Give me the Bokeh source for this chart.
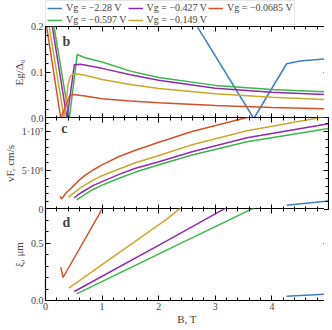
import numpy as np
from bokeh.plotting import figure
from bokeh.layouts import column
from bokeh.models import Range1d, FixedTicker, LinearAxis, Legend, LegendItem, Label
from bokeh.embed import file_html
from bokeh.resources import INLINE

# ---------------- data ----------------
series_labels = ["Vg = −2.28 V", "Vg = −0.597 V", "Vg = −0.427 V",
                 "Vg = −0.149 V", "Vg = −0.0685 V"]
series_colors = ["#3f7fbf", "#3cb54a", "#8f2aa8", "#c9a92c", "#d2532b"]

# panel b : E_g / Delta_0
b_B = [
    [2.60, 3.68, 4.26, 4.5, 5.0],
    [0.0, 0.42, 0.56, 0.7, 1.0, 1.5, 2.0, 3.0, 4.0, 5.0],
    [0.0, 0.38, 0.51, 0.62, 1.0, 1.5, 2.0, 3.0, 4.0, 5.0],
    [0.0, 0.33, 0.40, 0.44, 0.51, 0.7, 1.0, 1.5, 2.0, 3.0, 4.0, 5.0],
    [0.0, 0.27, 0.42, 0.48, 0.7, 1.0, 1.5, 2.0, 3.0, 4.0, 5.0],
]
b_E = [
    [0.216, 0.0, 0.119, 0.125, 0.130],
    [0.311, 0.0, 0.139, 0.132, 0.123, 0.103, 0.089, 0.072, 0.063, 0.058],
    [0.292, 0.0, 0.117, 0.118, 0.109, 0.095, 0.083, 0.066, 0.057, 0.052],
    [0.249, 0.0, 0.075, 0.092, 0.098, 0.094, 0.085, 0.074, 0.065, 0.054, 0.046, 0.041],
    [0.216, 0.0, 0.048, 0.052, 0.049, 0.043, 0.038, 0.034, 0.028, 0.024, 0.021],
]

# panel c : v_F, cm/s
c_B = [
    [4.26, 4.6, 5.0],
    [0.55, 0.62, 0.71, 0.85, 0.99, 1.30, 1.59, 1.99, 2.59, 3.56, 5.0],
    [0.51, 0.56, 0.63, 0.71, 0.85, 0.99, 1.30, 1.59, 1.99, 2.59, 3.56, 5.0],
    [0.405, 0.476, 0.55, 0.62, 0.71, 0.85, 0.99, 1.30, 1.59, 1.99, 2.59, 3.56, 4.86, 5.0],
    [0.26, 0.28, 0.30, 0.36, 0.42, 0.476, 0.60, 0.71, 0.85, 0.99, 1.30, 1.59, 1.99, 2.59, 3.56, 3.8],
]
c_v = [
    [0.056e7, 0.080e7, 0.108e7],
    [0.125e7, 0.155e7, 0.20e7, 0.26e7, 0.31e7, 0.40e7, 0.48e7, 0.57e7, 0.70e7, 0.87e7, 1.04e7],
    [0.147e7, 0.18e7, 0.215e7, 0.25e7, 0.31e7, 0.355e7, 0.45e7, 0.53e7, 0.61e7, 0.74e7, 0.92e7, 1.10e7],
    [0.156e7, 0.20e7, 0.24e7, 0.28e7, 0.32e7, 0.38e7, 0.43e7, 0.52e7, 0.60e7, 0.69e7, 0.83e7, 1.01e7, 1.18e7, 1.20e7],
    [0.17e7, 0.135e7, 0.15e7, 0.21e7, 0.25e7, 0.29e7, 0.38e7, 0.445e7, 0.51e7, 0.57e7, 0.68e7, 0.76e7, 0.86e7, 1.0e7, 1.18e7, 1.22e7],
]

# panel d : xi, um
d_B = [
    [4.26, 5.0],
    [0.55, 2.15, 3.64, 3.8],
    [0.51, 2.15, 3.15, 3.3],
    [0.41, 2.15, 2.36, 2.5],
    [0.27, 0.31, 1.0, 1.1],
]
d_xi = [
    [0.037, 0.057],
    [0.057, 0.44, 0.795, 0.833],
    [0.078, 0.52, 0.795, 0.835],
    [0.107, 0.71, 0.795, 0.84],
    [0.29, 0.20, 0.795, 0.88],
]

x_ticks = [0, 1, 2, 3, 4]
x_tick_labels = ["0", "1", "2", "3", "4"]
b_ticks = [0.0, 0.1, 0.2]
b_tick_labels = ["0.0", "0.1", "0.2"]
c_ticks = [0.0, 5e6, 1e7]
c_tick_labels = ["0", "5·10⁶", "1·10⁷"]
d_ticks = [0.0, 0.5]
d_tick_labels = ["0.0", "0.5"]

# ---------------- styling helpers ----------------
FONT = "Liberation Serif"
LB = 40
FW = 283
x_range = Range1d(0, 5)


def base_fig(fh, y_range, top, bottom, overlap):
    p = figure(frame_width=FW, frame_height=fh, x_range=x_range, y_range=y_range,
               x_axis_location=None, y_axis_location=None,
               min_border_left=LB, min_border_right=1,
               min_border_top=top, min_border_bottom=bottom,
               output_backend="svg", toolbar_location=None,
               margin=(-overlap, 0, 0, 0))
    p.grid.visible = False
    p.outline_line_color = "black"
    p.outline_line_width = 1.2
    p.outline_line_alpha = 1.0
    p.border_fill_alpha = 0.0
    return p


def style_ticks(ax):
    ax.axis_line_color = None
    ax.major_tick_in = 5
    ax.major_tick_out = 0
    ax.minor_tick_in = 3
    ax.minor_tick_out = 0
    ax.major_tick_line_color = "black"
    ax.minor_tick_line_color = "black"


def add_axis(p, side, ticks, minor, labels, title, title_standoff=3):
    ax = LinearAxis(ticker=FixedTicker(ticks=ticks, minor_ticks=minor))
    style_ticks(ax)
    ax.major_label_overrides = {t: s for t, s in zip(ticks, labels)}
    ax.major_label_text_font = FONT
    ax.major_label_text_font_size = "10px"
    ax.major_label_standoff = 2
    ax.axis_label = title
    ax.axis_label_text_font = FONT
    ax.axis_label_text_font_size = "11px"
    ax.axis_label_text_font_style = "normal"
    ax.axis_label_standoff = title_standoff
    p.add_layout(ax, side)
    return ax


def add_tick_edge(p, side, ticks, minor, loc):
    # tick marks only, pinned to the frame edge (takes no border space)
    ax = LinearAxis(ticker=FixedTicker(ticks=ticks, minor_ticks=minor), fixed_location=loc)
    style_ticks(ax)
    ax.major_label_overrides = {t: "" for t in ticks}
    ax.major_label_text_font_size = "0px"
    p.add_layout(ax, side)
    return ax


x_minor = [round(0.2 * i, 2) for i in range(26)]
b_minor = [round(0.02 * i, 3) for i in range(11)]
c_minor = [1e6 * i for i in range(12)]
d_minor = [round(0.1 * i, 2) for i in range(9)]

# legend strip
fl = figure(width=324, height=26, x_range=x_range, y_range=Range1d(1, 2),
            x_axis_location=None, y_axis_location=None,
            min_border_left=38, min_border_right=0, min_border_top=0, min_border_bottom=0,
            output_backend="svg", toolbar_location=None)
fl.grid.visible = False
fl.outline_line_color = None

fb = base_fig(92, Range1d(0, 0.2), 6, 6, 6)
fc = base_fig(92, Range1d(0, 1.18e7), 0, 6, 7)
fd = base_fig(92, Range1d(0, 0.8), 0, 27, 7)

add_axis(fb, "left", b_ticks, b_minor, b_tick_labels, "Eg/Δ₀")
add_tick_edge(fb, "right", b_ticks, b_minor, 5)
add_tick_edge(fb, "below", x_ticks, x_minor, 0.0)
add_tick_edge(fb, "above", x_ticks, x_minor, 0.2)

add_axis(fc, "left", c_ticks, c_minor, c_tick_labels, "vF, cm/s")
add_tick_edge(fc, "right", c_ticks, c_minor, 5)
add_tick_edge(fc, "below", x_ticks, x_minor, 0.0)
add_tick_edge(fc, "above", x_ticks, x_minor, 1.18e7)

add_axis(fd, "left", d_ticks, d_minor, d_tick_labels, "ξ, μm")
add_tick_edge(fd, "right", d_ticks, d_minor, 5)
add_axis(fd, "below", x_ticks, x_minor, x_tick_labels, "B, T", title_standoff=0)
add_tick_edge(fd, "above", x_ticks, x_minor, 0.8)

legend_renderers = []
for i in range(5):
    fb.line(b_B[i], b_E[i], line_color=series_colors[i], line_width=1.5)
    fc.line(c_B[i], c_v[i], line_color=series_colors[i], line_width=1.5)
    fd.line(d_B[i], d_xi[i], line_color=series_colors[i], line_width=1.5)
    # same curves in the legend strip (outside its visible range) to give legend swatches
    legend_renderers.append(fl.line(b_B[i], b_E[i], line_color=series_colors[i], line_width=1.5))

# legend: row-major order blue, purple, orange / green, yellow
order = [0, 2, 4, 1, 3]
legend = Legend(items=[LegendItem(label=series_labels[k], renderers=[legend_renderers[k]]) for k in order],
                orientation="horizontal", ncols=3, location="top_left",
                label_text_font=FONT, label_text_font_size="10px",
                label_height=8, glyph_height=8, glyph_width=15, label_standoff=4,
                spacing=1, padding=1, margin=0,
                border_line_color="#cccccc", border_line_width=1,
                background_fill_alpha=1.0)
fl.add_layout(legend, "center")

# panel letters
for p, x, y, t in [(fb, 0.30, 0.167, "b"), (fc, 0.28, 1.04e7, "c"), (fd, 0.30, 0.68, "d")]:
    p.add_layout(Label(x=x, y=y, text=t, text_font=FONT, text_font_style="bold",
                       text_font_size="14px", text_baseline="alphabetic", text_align="left"))

layout = column(fl, fb, fc, fd, spacing=0)
open("out.html", "w").write(file_html(layout, INLINE))
